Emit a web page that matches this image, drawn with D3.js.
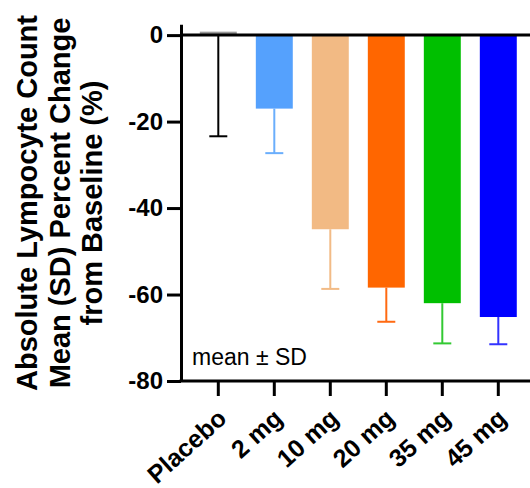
<!DOCTYPE html>
<html>
<head>
<meta charset="utf-8">
<script src="https://cdn.jsdelivr.net/npm/d3@7"></script>
<style>
  body { margin: 0; background: #fff; }
  svg { display: block; font-family: "Liberation Sans", Arial, sans-serif; }
</style>
</head>
<body>
<script>
// Data
const groups = ["Placebo", "2 mg", "10 mg", "20 mg", "35 mg", "45 mg"];
const means = [0.8, -17.0, -44.9, -58.4, -62.0, -65.2];
const sds = [24.2, 10.3, 13.8, 7.9, 9.3, 6.3];
const barColors = ["#999999", "#55a1fd", "#f2ba84", "#ff6600", "#00bf00", "#0000ff"];
const errColors = ["#000000", "#6aaefc", "#f2bb86", "#ff6a12", "#33c933", "#3333ff"];
const yTicks = [0, -20, -40, -60, -80];
const yTitle = ["Absolute Lympocyte Count", "Mean (SD) Percent Change", "from Baseline (%)"];

const W = 530, H = 488;
const svg = d3.select("body").append("svg")
    .attr("width", W)
    .attr("height", H);

// scales
const x = d3.scaleBand()
    .domain(groups)
    .range([190.3, 526.3])
    .paddingInner(0.34)
    .paddingOuter(0.17);

const y = d3.scaleLinear()
    .domain([-80, 2.5])
    .range([381, 24.3]);

const axisX = 181;
const capW = 18;

// bars
svg.selectAll(".bar")
    .data(groups)
    .enter().append("rect")
    .attr("class", "bar")
    .attr("x", d => x(d))
    .attr("width", x.bandwidth())
    .attr("y", (d, i) => y(Math.max(0, means[i])))
    .attr("height", (d, i) => Math.abs(y(means[i]) - y(0)))
    .attr("fill", (d, i) => barColors[i]);

// error bars (drawn downward: mean - SD)
const err = svg.selectAll(".err")
    .data(groups)
    .enter().append("g")
    .attr("class", "err")
    .attr("stroke", (d, i) => errColors[i])
    .attr("stroke-width", 2);

err.append("line")
    .attr("x1", d => x(d) + x.bandwidth() / 2)
    .attr("x2", d => x(d) + x.bandwidth() / 2)
    .attr("y1", (d, i) => y(Math.min(0, means[i])))
    .attr("y2", (d, i) => y(means[i] - sds[i]));

err.append("line")
    .attr("x1", d => x(d) + x.bandwidth() / 2 - capW / 2)
    .attr("x2", d => x(d) + x.bandwidth() / 2 + capW / 2)
    .attr("y1", (d, i) => y(means[i] - sds[i]))
    .attr("y2", (d, i) => y(means[i] - sds[i]));

// zero line
svg.append("line")
    .attr("x1", axisX)
    .attr("x2", W)
    .attr("y1", y(0))
    .attr("y2", y(0))
    .attr("stroke", "#000")
    .attr("stroke-width", 3);

// y axis
const yAxis = svg.append("g")
    .attr("transform", `translate(${axisX},0)`)
    .call(d3.axisLeft(y).tickValues(yTicks).tickSize(14).tickSizeOuter(0).tickPadding(4)
        .tickFormat(d => d === 0 ? "0" : "-" + Math.abs(d)));
yAxis.select(".domain").attr("stroke-width", 3);
yAxis.selectAll(".tick line").attr("stroke-width", 3);
yAxis.selectAll("text")
    .attr("font-size", 24)
    .attr("font-weight", "bold")
    .attr("font-family", "Liberation Sans, Arial, sans-serif")
    .attr("fill", "#000");

// x axis
const xAxis = svg.append("g")
    .attr("transform", `translate(0,${y(-80)})`)
    .call(d3.axisBottom(x).tickSize(15).tickSizeOuter(0));
xAxis.select(".domain").attr("d", `M${axisX - 1.5},0H${W}`).attr("stroke-width", 3);
xAxis.selectAll(".tick line").attr("stroke-width", 3);
xAxis.selectAll("text")
    .attr("font-size", 25)
    .attr("font-weight", "bold")
    .attr("font-family", "Liberation Sans, Arial, sans-serif")
    .attr("fill", "#000")
    .attr("x", 0)
    .attr("y", 0)
    .attr("dy", "0.35em")
    .style("text-anchor", "end")
    .attr("transform", "translate(4,33) rotate(-42)");

// y title
const title = svg.append("text")
    .attr("transform", "translate(0,203) rotate(-90)")
    .attr("text-anchor", "middle")
    .attr("font-size", 29)
    .attr("font-weight", "bold");
title.selectAll("tspan")
    .data(yTitle)
    .enter().append("tspan")
    .attr("x", 0)
    .attr("y", (d, i) => 37 + i * 32.5)
    .text(d => d);

// legend note
svg.append("text")
    .attr("x", 192)
    .attr("y", 365)
    .attr("font-size", 23)
    .text("mean \u00b1 SD");
</script>
</body>
</html>
